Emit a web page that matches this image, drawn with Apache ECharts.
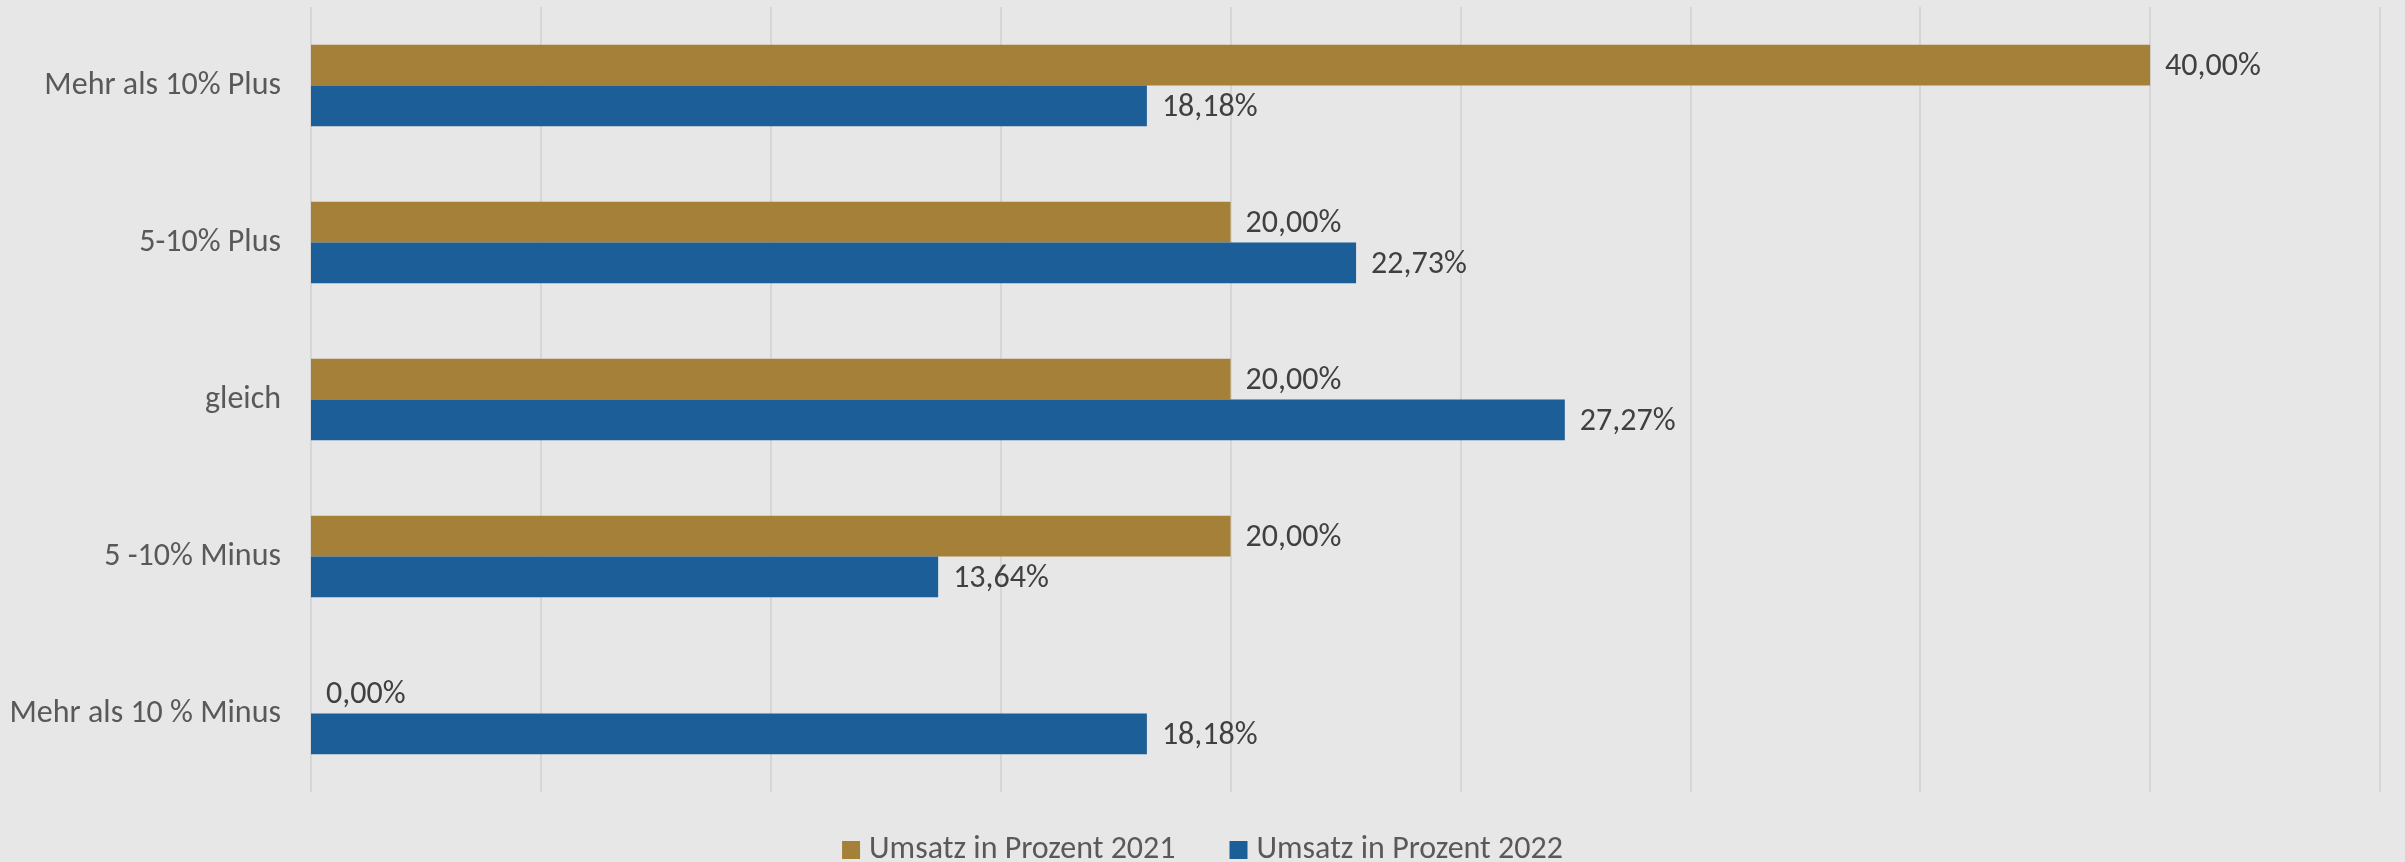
<!DOCTYPE html>
<html>
<head>
<meta charset="utf-8">
<script src="https://cdn.jsdelivr.net/npm/echarts@6/dist/echarts.min.js"></script>
<style>
html,body{margin:0;padding:0;background:#E7E7E7;}
#chart{width:2405px;height:862px;}
</style>
</head>
<body>
<div id="chart"></div>
<script>
const categories = ['Mehr als 10% Plus', '5-10% Plus', 'gleich', '5 -10% Minus', 'Mehr als 10 % Minus'];
const umsatz2021 = [40.00, 20.00, 20.00, 20.00, 0.00];
const umsatz2022 = [18.18, 22.73, 27.27, 13.64, 18.18];
const seriesNames = ['Umsatz in Prozent 2021', 'Umsatz in Prozent 2022'];
const xTicks = { min: 0, max: 45, interval: 5 };

const FONT = 'Carlito, "Liberation Sans Narrow", "Open Sans", sans-serif';
const fmt = p => p.value.toFixed(2).replace('.', ',') + '%';

const chart = echarts.init(document.getElementById('chart'));
chart.setOption({
  backgroundColor: '#E7E7E7',
  animation: false,
  textStyle: { fontFamily: FONT },
  grid: { left: 311, right: 25, top: 7, bottom: 70, containLabel: false },
  legend: {
    data: seriesNames,
    left: 'center',
    top: 829,
    itemWidth: 18,
    itemHeight: 18,
    itemGap: 54,
    icon: 'rect',
    textStyle: { fontFamily: FONT, fontSize: 32, color: '#595959', lineHeight: 30, padding: [-3, 0, 0, 4] }
  },
  xAxis: {
    type: 'value',
    min: xTicks.min, max: xTicks.max, interval: xTicks.interval,
    axisLabel: { show: false },
    axisLine: { show: false },
    axisTick: { show: false },
    splitLine: { show: true, lineStyle: { color: '#D6D6D6', width: 2 } }
  },
  yAxis: {
    type: 'category',
    data: categories,
    inverse: true,
    axisLine: { show: false },
    axisTick: { show: false },
    axisLabel: { margin: 30, fontFamily: FONT, fontSize: 32, color: '#595959' }
  },
  series: [
    {
      name: seriesNames[0], type: 'bar', data: umsatz2021,
      barGap: '0%', barCategoryGap: '48%',
      itemStyle: { color: '#A58038' },
      label: { show: true, position: 'right', distance: 15, offset: [0, 2], formatter: fmt, fontFamily: FONT, fontSize: 32, color: '#404040' }
    },
    {
      name: seriesNames[1], type: 'bar', data: umsatz2022,
      barGap: '0%', barCategoryGap: '48%',
      itemStyle: { color: '#1C5E98' },
      label: { show: true, position: 'right', distance: 15, offset: [0, 2], formatter: fmt, fontFamily: FONT, fontSize: 32, color: '#404040' }
    }
  ]
});
</script>
</body>
</html>
